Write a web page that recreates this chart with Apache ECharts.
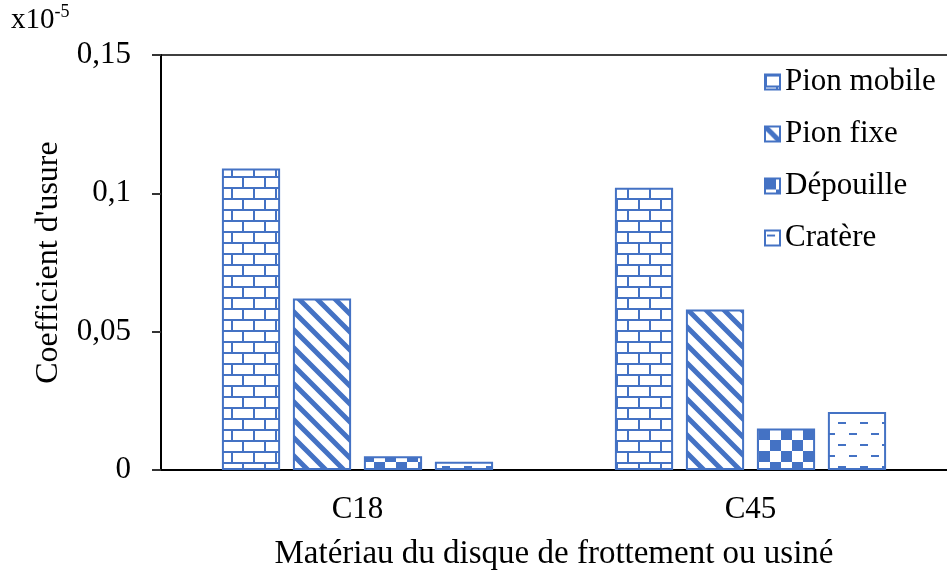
<!DOCTYPE html>
<html>
<head>
<meta charset="utf-8">
<script src="https://cdn.jsdelivr.net/npm/echarts@6/dist/echarts.min.js"></script>
<style>
  html, body { margin: 0; padding: 0; background: #fff; }
  #chart { width: 947px; height: 574px; }
</style>
</head>
<body>
<div id="chart"></div>
<script>
// Wear coefficient (x10^-5) per friction disc material
const categories = ['C18', 'C45'];
const seriesNames = ['Pion mobile', 'Pion fixe', 'Dépouille', 'Cratère'];
const pionMobile = [0.109, 0.102];
const pionFixe = [0.062, 0.058];
const depouille = [0.005, 0.015];
const cratere = [0.003, 0.021];
const yTicks = [0, 0.05, 0.1, 0.15];

const BLUE = '#4472C4';
const FONT = '"Liberation Serif", "Times New Roman", serif';

function makeTile(w, h, draw) {
  const c = document.createElement('canvas');
  c.width = w; c.height = h;
  const ctx = c.getContext('2d');
  ctx.fillStyle = '#fff';
  ctx.fillRect(0, 0, w, h);
  ctx.fillStyle = BLUE;
  ctx.strokeStyle = BLUE;
  draw(ctx, w, h);
  return { image: c, repeat: 'repeat' };
}

// brick pattern
const brick = makeTile(22, 22, (ctx) => {
  ctx.fillRect(0, 0, 22, 2);
  ctx.fillRect(0, 11, 22, 2);
  ctx.fillRect(0, 0, 2, 11);
  ctx.fillRect(11, 11, 2, 11);
});

// wide downward diagonal stripes
const diag = makeTile(18, 18, (ctx) => {
  ctx.lineWidth = 5;
  ctx.beginPath();
  for (let k = -2; k <= 2; k++) {
    ctx.moveTo(k * 18 - 2, -2);
    ctx.lineTo(k * 18 + 20, 20);
  }
  ctx.stroke();
});

// checkerboard
const checker = makeTile(22, 22, (ctx) => {
  ctx.fillRect(0, 0, 11, 11);
  ctx.fillRect(11, 11, 11, 11);
});

// staggered dashes
const dashes = makeTile(22, 22, (ctx) => {
  ctx.fillRect(2, 4, 8, 2);
  ctx.fillRect(13, 15, 8, 2);
});

const fills = [brick, diag, checker, dashes];
const values = [pionMobile, pionFixe, depouille, cratere];

const chart = echarts.init(document.getElementById('chart'), null, { renderer: 'canvas' });

const fmt = (v) => {
  const n = Math.round(v * 100) / 100;
  return String(n).replace('.', ',');
};

chart.setOption({
  animation: false,
  backgroundColor: '#fff',
  textStyle: { fontFamily: FONT, color: '#000' },
  grid: { left: 161, right: 0, top: 55, bottom: 104, containLabel: false, outerBoundsMode: 'none' },
  legend: {
    orient: 'vertical',
    left: 759,
    top: 61,
    itemWidth: 15,
    itemHeight: 15,
    itemGap: 20,
    icon: 'rect',
    textStyle: { fontFamily: FONT, fontSize: 31, color: '#000', padding: [0, 0, 0, 0], lineHeight: 32 },
    data: seriesNames
  },
  xAxis: [{
    type: 'category',
    data: categories,
    position: 'bottom',
    axisLine: { lineStyle: { color: '#000', width: 2 } },
    axisTick: { show: false },
    axisLabel: { fontFamily: FONT, fontSize: 31, color: '#000', margin: 24 },
    name: 'Matériau du disque de frottement ou usiné',
    nameLocation: 'middle',
    nameGap: 68,
    nameTextStyle: { fontFamily: FONT, fontSize: 33, color: '#000' }
  }, {
    type: 'category',
    data: categories,
    position: 'top',
    axisLine: { show: true, lineStyle: { color: '#000', width: 1.5 } },
    axisTick: { show: false },
    axisLabel: { show: false }
  }],
  yAxis: {
    type: 'value',
    min: 0,
    max: yTicks[yTicks.length - 1],
    interval: yTicks[1] - yTicks[0],
    axisLine: { show: true, lineStyle: { color: '#000', width: 2 } },
    axisTick: { show: true, inside: false, length: 9, lineStyle: { color: '#333', width: 2 } },
    splitLine: { show: false },
    axisLabel: { fontFamily: FONT, fontSize: 31, color: '#000', margin: 30, formatter: fmt },
    name: "Coefficient d'usure",
    nameLocation: 'middle',
    nameGap: 96,
    nameTextStyle: { fontFamily: FONT, fontSize: 32, color: '#000' }
  },
  graphic: [{
    type: 'text',
    left: 11,
    top: 3,
    style: {
      text: '{b|x10}{s|-5}',
      rich: {
        b: { fontFamily: FONT, fontSize: 29, fill: '#000', verticalAlign: 'bottom', lineHeight: 32 },
        s: { fontFamily: FONT, fontSize: 18, fill: '#000', verticalAlign: 'top', lineHeight: 32, padding: [0, 0, 14, 0] }
      }
    }
  }],
  series: seriesNames.map((name, i) => ({
    name,
    type: 'bar',
    data: values[i],
    barGap: '22%',
    barCategoryGap: '31%',
    itemStyle: { color: fills[i], borderColor: BLUE, borderWidth: 2 }
  }))
});
</script>
</body>
</html>
